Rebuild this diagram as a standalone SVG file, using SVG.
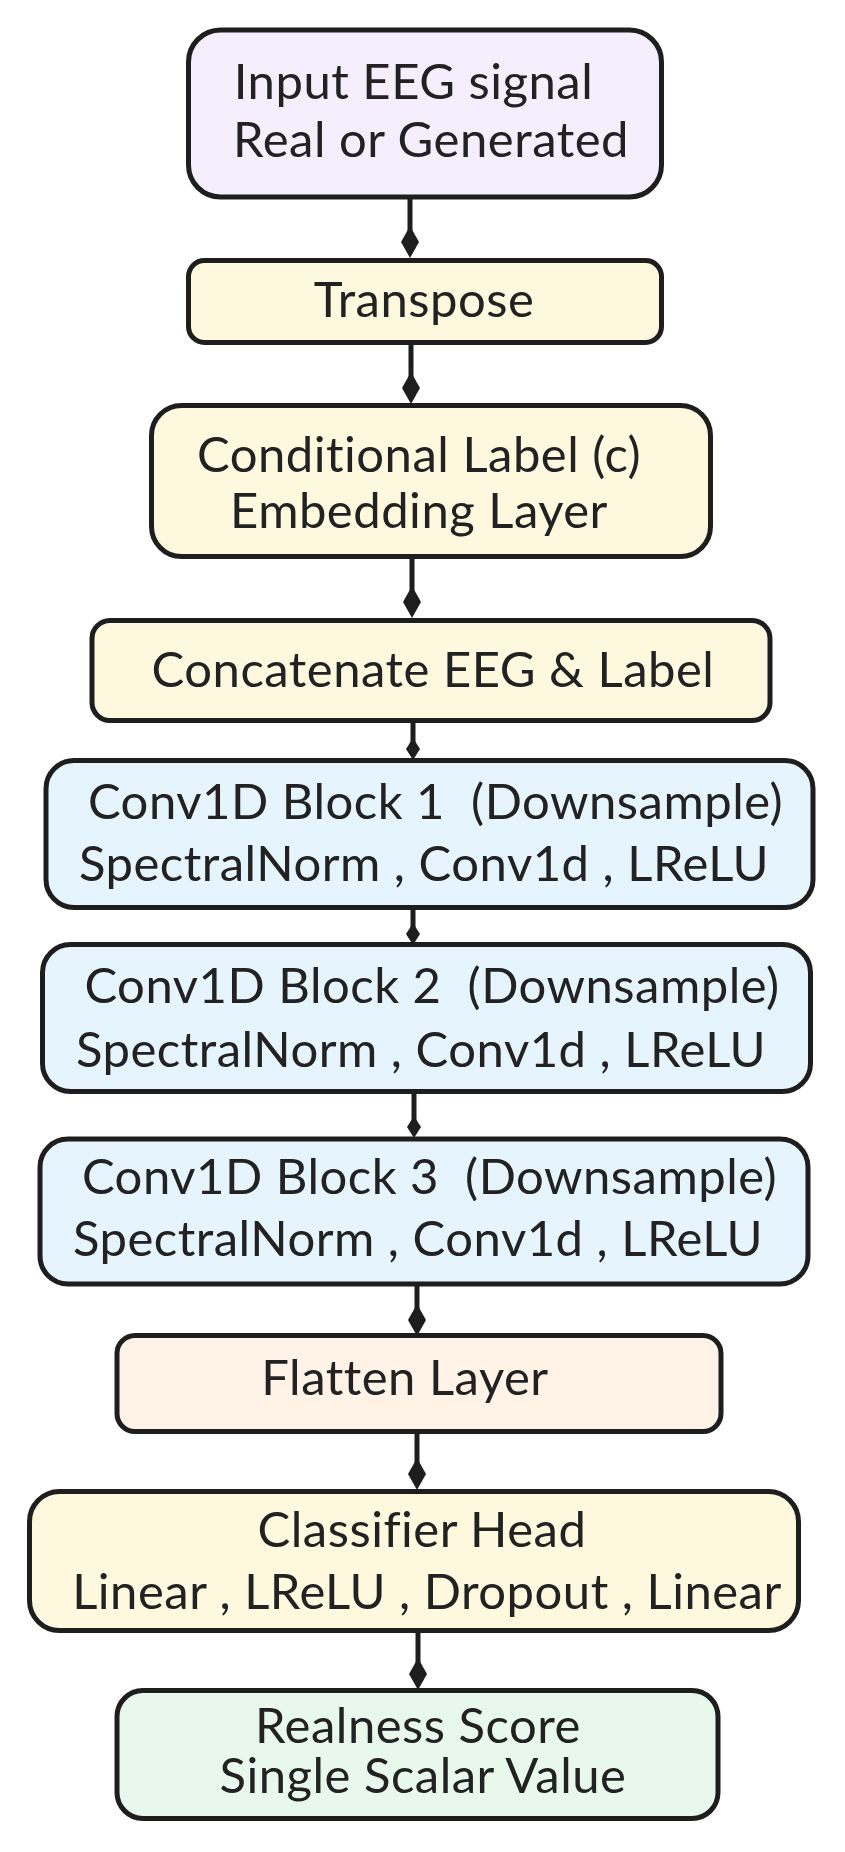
<svg xmlns="http://www.w3.org/2000/svg" width="845" height="1852" viewBox="0 0 845 1852">
<style>
.box{stroke:#1e1e1e;stroke-width:5}
.lav{fill:#F5EEFC}
.yel{fill:#FEF8DE}
.blu{fill:#E6F4FE}
.pch{fill:#FEF3E6}
.grn{fill:#E8F8EC}
text{font-family:Lato,"Noto Sans",sans-serif;font-size:49px;letter-spacing:0.5px;fill:#222;text-anchor:middle;white-space:pre}
.conn path{stroke:#1e1e1e;stroke-width:5;fill:none;stroke-linecap:round}
</style>
<defs>
<marker id="dBig" markerUnits="userSpaceOnUse" markerWidth="32" markerHeight="20" viewBox="0 0 32 20" refX="16" refY="10" orient="auto">
<path d="M0,10 L16,1 L32,10 L16,19 Z" fill="#1e1e1e"/>
</marker>
<marker id="dSmall" markerUnits="userSpaceOnUse" markerWidth="22" markerHeight="16" viewBox="0 0 22 16" refX="11" refY="8" orient="auto">
<path d="M0,8 L11,1 L22,8 L11,15 Z" fill="#1e1e1e"/>
</marker>
</defs>
<rect width="845" height="1852" fill="#ffffff"/>
<g class="conn" id="connectors">
<path d="M410,194 L410,242" marker-end="url(#dBig)"/>
<path d="M411,343 L411,388" marker-end="url(#dBig)"/>
<path d="M412,555 L412,602" marker-end="url(#dBig)"/>
<path d="M413,720 L413,749" marker-end="url(#dSmall)"/>
<path d="M413,908 L413,934" marker-end="url(#dSmall)"/>
<path d="M414,1092 L414,1127" marker-end="url(#dSmall)"/>
<path d="M417,1283 L417,1320" marker-end="url(#dBig)"/>
<path d="M417,1431 L417,1474" marker-end="url(#dBig)"/>
<path d="M418,1631 L418,1674" marker-end="url(#dBig)"/>
</g>
<g id="input">
<rect class="box lav" x="188.5" y="30" width="473" height="167" rx="32"/>
<text x="413.5" y="99">Input EEG signal</text>
<text x="431" y="157">Real or Generated</text>
</g>
<g id="transpose">
<rect class="box yel" x="188.5" y="260.5" width="473" height="82" rx="16"/>
<text x="424" y="317">Transpose</text>
</g>
<g id="embedding">
<rect class="box yel" x="151.5" y="405.5" width="559" height="151" rx="30"/>
<text x="419" y="472">Conditional Label (c)</text>
<text x="419" y="528">Embedding Layer</text>
</g>
<g id="concat">
<rect class="box yel" x="92" y="620.5" width="678" height="100" rx="18"/>
<text x="433" y="687">Concatenate EEG &amp; Label</text>
</g>
<g id="conv1">
<rect class="box blu" x="46" y="760.5" width="767" height="147" rx="28"/>
<text x="435.5" y="819">Conv1D Block 1  (Downsample)</text>
<text x="424" y="881">SpectralNorm , Conv1d , LReLU</text>
</g>
<g id="conv2">
<rect class="box blu" x="42.5" y="944.5" width="768" height="147" rx="28"/>
<text x="432" y="1003">Conv1D Block 2  (Downsample)</text>
<text x="421" y="1067">SpectralNorm , Conv1d , LReLU</text>
</g>
<g id="conv3">
<rect class="box blu" x="40" y="1139" width="768" height="145" rx="28"/>
<text x="429.5" y="1194">Conv1D Block 3  (Downsample)</text>
<text x="418" y="1256">SpectralNorm , Conv1d , LReLU</text>
</g>
<g id="flatten">
<rect class="box pch" x="117" y="1335.5" width="604" height="96" rx="18"/>
<text x="405" y="1395">Flatten Layer</text>
</g>
<g id="classifier">
<rect class="box yel" x="29.5" y="1491.5" width="769" height="139" rx="30"/>
<text x="422" y="1547">Classifier Head</text>
<text x="427" y="1609">Linear , LReLU , Dropout , Linear</text>
</g>
<g id="output">
<rect class="box grn" x="117" y="1690.5" width="601" height="128" rx="26"/>
<text x="418" y="1743">Realness Score</text>
<text x="423" y="1793">Single Scalar Value</text>
</g>
</svg>
